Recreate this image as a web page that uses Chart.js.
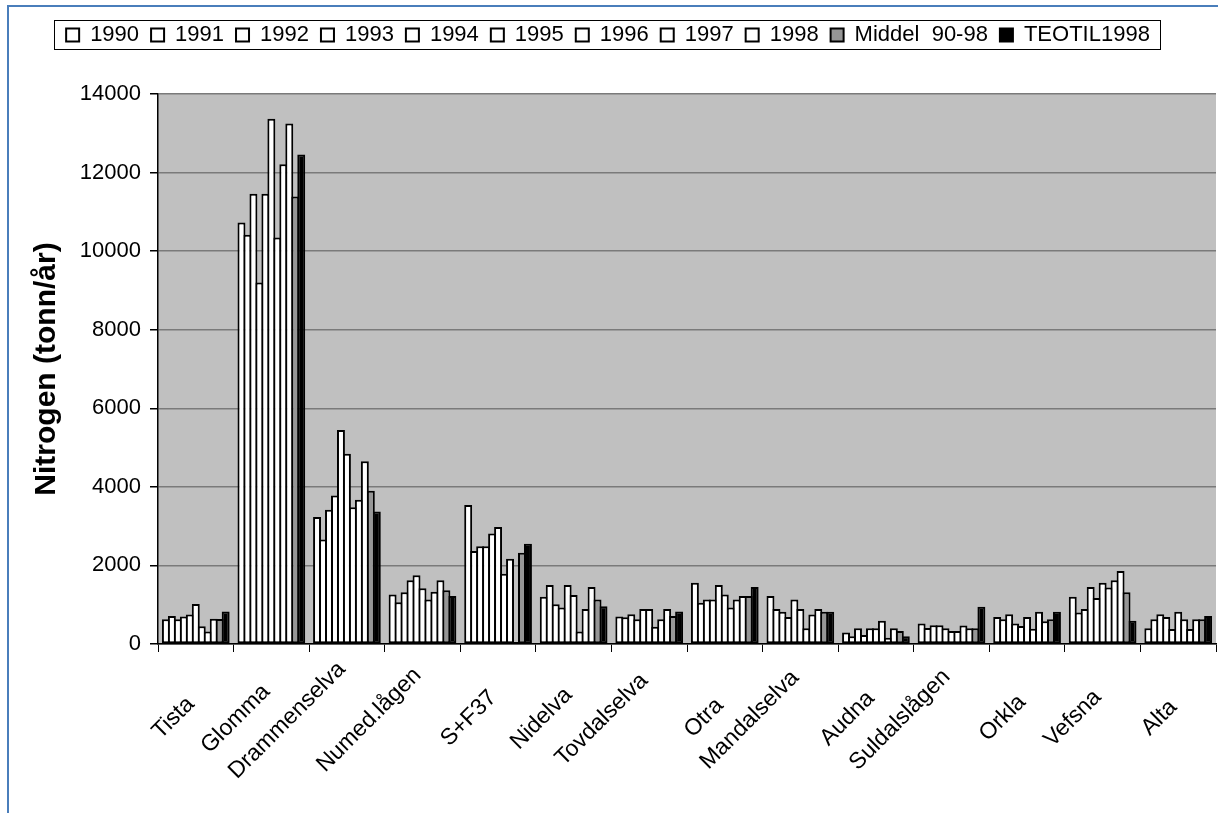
<!DOCTYPE html>
<html>
<head>
<meta charset="utf-8">
<script src="https://cdn.jsdelivr.net/npm/chart.js@4.4.0/dist/chart.umd.min.js"></script>
<style>
  html, body { margin: 0; padding: 0; background: #fff; overflow: hidden; }
  #wrap { position: relative; width: 1218px; height: 813px; }
  #frame { position: absolute; left: 7px; top: 5px; width: 1211px; height: 808px;
           border-left: 2px solid #4a7ebb; border-top: 2px solid #4a7ebb; box-sizing: border-box; }
  canvas { position: absolute; left: 0; top: 0; }
</style>
</head>
<body>
<div id="wrap">
  <div id="frame"></div>
  <canvas id="myChart" width="1218" height="813"></canvas>
</div>
<script>
//categories (rivers)
const rivers = ["Tista", "Glomma", "Drammenselva", "Numed.lågen", "S+F37", "Nidelva", "Tovdalselva",
  "Otra", "Mandalselva", "Audna", "Suldalslågen", "Orkla", "Vefsna", "Alta"];

//series names
const seriesNames = ["1990", "1991", "1992", "1993", "1994", "1995", "1996", "1997", "1998",
  "Middel  90-98", "TEOTIL1998"];

//nitrogen values per year (tonn/år), one value per river
const y1990 = [630, 10730, 3230, 1260, 3540, 1200, 700, 1560, 1220, 290, 520, 690, 1200, 400];
const y1991 = [710, 10420, 2660, 1060, 2370, 1500, 680, 1050, 890, 200, 410, 630, 800, 630];
const y1992 = [630, 11460, 3420, 1320, 2490, 1010, 760, 1130, 820, 400, 480, 760, 890, 760];
const y1993 = [700, 9200, 3780, 1620, 2490, 930, 630, 1130, 690, 230, 480, 520, 1450, 690];
const y1994 = [750, 11460, 5450, 1750, 2810, 1500, 890, 1500, 1130, 400, 400, 460, 1170, 380];
const y1995 = [1020, 13370, 4840, 1420, 2980, 1250, 890, 1260, 890, 400, 330, 690, 1560, 820];
const y1996 = [450, 10350, 3480, 1130, 1790, 320, 440, 930, 400, 590, 330, 390, 1440, 630];
const y1997 = [320, 12210, 3670, 1330, 2170, 890, 630, 1130, 750, 160, 470, 820, 1620, 380];
const y1998 = [640, 13250, 4650, 1620, 50, 1450, 890, 1220, 890, 400, 400, 580, 1860, 630];
const middel = [634, 11390, 3900, 1370, 2320, 1130, 710, 1220, 820, 330, 400, 630, 1320, 630];
const teotil = [830, 12460, 3370, 1220, 2550, 960, 830, 1450, 820, 200, 950, 820, 590, 710];

const seriesValues = [y1990, y1991, y1992, y1993, y1994, y1995, y1996, y1997, y1998, middel, teotil];

//y axis ticks
const yTicks = [0, 2000, 4000, 6000, 8000, 10000, 12000, 14000];

const fontFamily = "'Liberation Sans', Arial, sans-serif";
Chart.defaults.color = "#000";
Chart.defaults.font.family = fontFamily;

//x labels: excel centres the rotated labels vertically, so short names sit lower.
//a taller line height per label moves a rotated chart.js label straight down
const xFontSize = 23;
const baseLineHeight = xFontSize * 1.2;
const measureCtx = document.createElement("canvas").getContext("2d");
measureCtx.font = xFontSize + "px " + fontFamily;
const labelWidths = rivers.map((r) => measureCtx.measureText(r).width);
const maxLabelWidth = Math.max(...labelWidths);
const labelDrop = labelWidths.map((w) => 0.33 * (maxLabelWidth - w));

//fill colour per series: years white, average grey, TEOTIL black
const fillFor = function (i) {
  if (i === 9) return "#969696";
  if (i === 10) return "#000000";
  return "#ffffff";
};

const datasets = seriesValues.map((vals, i) => ({
  label: seriesNames[i],
  data: vals,
  backgroundColor: fillFor(i),
  borderColor: "#000",
  borderWidth: 2,
  borderSkipped: false,
  categoryPercentage: 0.87,
  barPercentage: 1.33,
}));

//grey plot background
const plotBackground = {
  id: "plotBackground",
  beforeDraw(chart) {
    const { ctx, chartArea } = chart;
    ctx.save();
    ctx.fillStyle = "#c0c0c0";
    ctx.fillRect(chartArea.left, chartArea.top, chartArea.right - chartArea.left, chartArea.bottom - chartArea.top);
    ctx.restore();
  },
};

//draw series left to right so each bar overlaps the previous one (excel overlap)
const drawInOrder = {
  id: "drawInOrder",
  beforeDatasetsDraw(chart) {
    for (let i = 0; i < chart.data.datasets.length; i++) {
      const meta = chart.getDatasetMeta(i);
      if (chart.isDatasetVisible(i)) meta.controller.draw();
    }
    return false;
  },
};

//frame round the legend
const legendFrame = {
  id: "legendFrame",
  afterDraw(chart) {
    const boxes = chart.legend.legendHitBoxes;
    if (!boxes || !boxes.length) return;
    const ctx = chart.ctx;
    const left = Math.min(...boxes.map((b) => b.left)) - 12;
    const right = Math.max(...boxes.map((b) => b.left + b.width)) + 10;
    const top = boxes[0].top - 4;
    const bottom = boxes[0].top + boxes[0].height + 3;
    ctx.save();
    ctx.strokeStyle = "#000";
    ctx.lineWidth = 1;
    ctx.strokeRect(Math.round(left) + 0.5, Math.round(top) + 0.5, Math.round(right - left), Math.round(bottom - top));
    ctx.restore();
  },
};

const config = {
  type: "bar",
  data: { labels: rivers, datasets },
  options: {
    responsive: false,
    animation: false,
    layout: { padding: { left: 0, right: 2, top: 12, bottom: 0 } },
    plugins: {
      tooltip: { enabled: false },
      legend: {
        position: "top",
        labels: {
          boxWidth: 13,
          boxHeight: 13,
          padding: 12,
          font: { size: 22, family: fontFamily },
          color: "#000",
        },
      },
      //empty spacer between legend and plot
      subtitle: {
        display: true,
        text: " ",
        position: "top",
        weight: 500,
        font: { size: 10 },
        padding: { top: 0, bottom: 26 },
      },
    },
    scales: {
      x: {
        grid: { display: true, drawOnChartArea: false, drawTicks: true, tickLength: 8, color: "#000", tickColor: "#000" },
        border: { color: "#000", width: 1.5 },
        ticks: {
          autoSkip: false, minRotation: 45, maxRotation: 45,
          color: "#000", padding: 4, labelOffset: -5,
          font: (c) => ({
            size: xFontSize,
            lineHeight: (baseLineHeight + 2.83 * labelDrop[c.index]) + "px",
          }),
        },
        afterFit(scale) {
          scale.height = 169;
          scale.paddingLeft = 0;
          scale.paddingRight = 0;
        },
      },
      y: {
        min: 0,
        max: 14000,
        afterBuildTicks(scale) { scale.ticks = yTicks.map((v) => ({ value: v })); },
        grid: { color: "#7a7a7a", lineWidth: 1.5, tickColor: "#000", tickLength: 8 },
        border: { color: "#000", width: 1.5 },
        ticks: { font: { size: 22 }, color: "#000", padding: 9, callback: (v) => String(v) },
        title: { display: true, text: "Nitrogen (tonn/år)", font: { size: 30, weight: "bold" }, color: "#000", padding: { top: 29, bottom: 0 } },
        afterFit(scale) { scale.width = 158; },
      },
    },
  },
  plugins: [plotBackground, drawInOrder, legendFrame],
};

const myChart = new Chart(document.getElementById("myChart"), config);
</script>
</body>
</html>
